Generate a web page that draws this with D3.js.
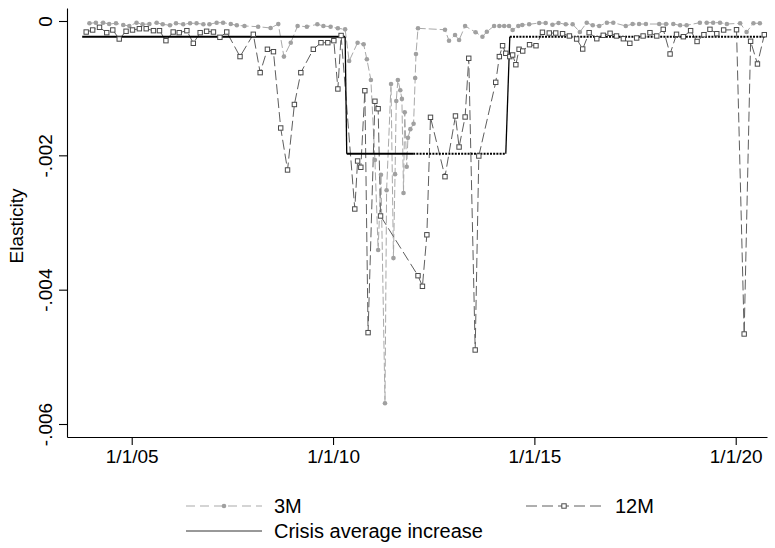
<!DOCTYPE html>
<html>
<head>
<meta charset="utf-8">
<script src="https://cdn.jsdelivr.net/npm/d3@7"></script>
<style>
  body { margin: 0; background: #fff; }
  svg { display: block; font-family: "Liberation Sans", Arial, sans-serif; }
</style>
</head>
<body>
<div id="graph"></div>
<script>
// dates as decimal years, values in units of 1e-3

var years3M = [
  2003.95, 2004.11, 2004.29, 2004.44, 2004.61, 2004.79, 2004.94, 2005.12, 2005.27, 2005.44,
  2005.62, 2005.77, 2005.95, 2006.10, 2006.28, 2006.45, 2006.61, 2006.78, 2006.93, 2007.11,
  2007.27, 2007.46, 2007.61, 2007.80, 2008.14, 2008.45, 2008.64, 2008.78, 2008.95, 2009.12,
  2009.35, 2009.61, 2009.76, 2009.94, 2010.12, 2010.30, 2010.40, 2010.61, 2010.76, 2010.84,
  2010.94, 2011.04, 2011.12, 2011.19, 2011.29, 2011.33, 2011.44, 2011.50, 2011.54, 2011.57,
  2011.61, 2011.67, 2011.71, 2011.75, 2011.78, 2011.83, 2011.86, 2011.92, 2012.00, 2012.04,
  2012.06, 2012.11, 2012.78, 2012.88, 2013.03, 2013.13, 2013.28, 2013.54, 2013.71, 2013.82,
  2014.00, 2014.13, 2014.25, 2014.37, 2014.46, 2014.60, 2014.70, 2014.87, 2015.12, 2015.28,
  2015.45, 2015.60, 2015.78, 2015.95, 2016.13, 2016.30, 2016.45, 2016.61, 2016.80, 2016.96,
  2017.27, 2017.44, 2017.60, 2017.77, 2018.10, 2018.27, 2018.45, 2018.62, 2018.78, 2019.11,
  2019.28, 2019.44, 2019.61, 2019.78, 2020.11, 2020.27, 2020.44, 2020.60
]
var vals3M = [
  -0.034, -0.025, -0.025, -0.045, -0.034, -0.060, -0.074, -0.025, -0.049, -0.045,
  -0.025, -0.049, -0.064, -0.034, -0.049, -0.034, -0.034, -0.049, -0.049, -0.025,
  -0.025, -0.045, -0.064, -0.074, -0.085, -0.104, -0.045, -0.530, -0.323, -0.074,
  -0.085, -0.049, -0.074, -0.085, -0.109, -0.124, -0.596, -0.323, -0.347, -0.570,
  -0.878, -2.07, -3.41, -2.29, -5.69, -2.52, -0.938, -3.53, -2.28, -1.19,
  -0.878, -1.03, -1.16, -2.56, -1.36, -2.17, -1.74, -1.61, -1.53, -0.849,
  -0.491, -0.109, -0.130, -0.293, -0.208, -0.283, -0.074, -0.168, -0.234, -0.159,
  -0.074, -0.074, -0.074, -0.074, -0.134, -0.074, -0.060, -0.049, -0.030, -0.030,
  -0.055, -0.030, -0.049, -0.049, -0.164, -0.025, -0.064, -0.074, -0.025, -0.025,
  -0.074, -0.045, -0.045, -0.045, -0.045, -0.045, -0.045, -0.064, -0.064, -0.025,
  -0.025, -0.025, -0.025, -0.045, -0.034, -0.164, -0.034, -0.034
]

var years12M = [
  2003.87, 2004.03, 2004.20, 2004.38, 2004.53, 2004.69, 2004.86, 2005.02, 2005.19, 2005.36,
  2005.54, 2005.69, 2005.85, 2006.03, 2006.18, 2006.37, 2006.53, 2006.70, 2006.86, 2007.03,
  2007.19, 2007.36, 2007.69, 2008.02, 2008.19, 2008.37, 2008.52, 2008.70, 2008.87, 2009.04,
  2009.20, 2009.51, 2009.70, 2009.87, 2010.02, 2010.12, 2010.20, 2010.54, 2010.61, 2010.69,
  2010.79, 2010.87, 2011.04, 2011.12, 2011.18, 2012.11, 2012.22, 2012.33, 2012.42, 2012.78,
  2013.04, 2013.13, 2013.28, 2013.37, 2013.53, 2013.62, 2014.04, 2014.13, 2014.21, 2014.29,
  2014.39, 2014.46, 2014.54, 2014.62, 2014.71, 2014.88, 2015.04, 2015.20, 2015.37, 2015.53,
  2015.70, 2015.87, 2016.05, 2016.20, 2016.36, 2016.55, 2016.71, 2016.88, 2017.04, 2017.21,
  2017.37, 2017.54, 2017.70, 2017.87, 2018.04, 2018.20, 2018.37, 2018.53, 2018.70, 2018.88,
  2019.04, 2019.21, 2019.36, 2019.53, 2019.70, 2020.02, 2020.21, 2020.37, 2020.54, 2020.71
]
var vals12M = [
  -0.164, -0.134, -0.094, -0.174, -0.134, -0.268, -0.153, -0.134, -0.115, -0.115,
  -0.144, -0.144, -0.293, -0.164, -0.174, -0.144, -0.332, -0.174, -0.153, -0.164,
  -0.243, -0.164, -0.530, -0.198, -0.769, -0.421, -0.457, -1.593, -2.218, -1.243,
  -0.769, -0.421, -0.323, -0.323, -0.293, -1.012, -0.216, -2.799, -2.084, -2.178,
  -1.038, -4.640, -1.195, -1.306, -2.903, -3.792, -3.950, -3.183, -1.434, -2.318,
  -1.414, -1.876, -1.429, -0.555, -4.898, -2.010, -0.913, -0.530, -0.368, -0.481,
  -0.530, -0.506, -0.651, -0.421, -0.447, -0.353, -0.368, -0.168, -0.179, -0.179,
  -0.189, -0.223, -0.268, -0.417, -0.174, -0.264, -0.213, -0.183, -0.223, -0.264,
  -0.332, -0.253, -0.223, -0.174, -0.223, -0.124, -0.491, -0.198, -0.234, -0.144,
  -0.305, -0.204, -0.124, -0.189, -0.134, -0.130, -4.660, -0.302, -0.640, -0.204
]

// crisis average step
var yearsCrisis = [2003.77, 2010.30, 2010.34, 2014.29, 2014.39, 2020.75]
var valsCrisis = [-0.234, -0.234, -1.976, -1.976, -0.234, -0.234]
// from this date on the horizontal runs are drawn dotted
var dottedFrom = 2011.99

var yTicks = [0, -0.002, -0.004, -0.006]
var xTicks = [2005, 2010, 2015, 2020]
var xTickLabels = ['1/1/05', '1/1/10', '1/1/15', '1/1/20']

var legendItems = ['3M', '12M', 'Crisis average increase']

var toRows = (ys, vs) => ys.map((t, i) => ({t, v: vs[i] / 1000}))
var s3 = toRows(years3M, vals3M)
var s12 = toRows(years12M, vals12M)
var crisis = toRows(yearsCrisis, valsCrisis)

var width = 775, height = 548
var svg = d3.select('#graph').append('svg')
  .attr('width', width).attr('height', height)

svg.append('rect').attr('width', width).attr('height', height).attr('fill', '#fff')

var x = d3.scaleLinear().domain([2003.393, 2020.777]).range([67, 767])
var y = d3.scaleLinear().domain([0.0001935, -0.0061935]).range([8, 437])

var fs = 19, legFs = 20

// axes
var yAxis = d3.axisLeft(y)
  .tickValues(yTicks)
  .tickSize(8).tickSizeOuter(0)
  .tickFormat(d => d === 0 ? '0' : '-' + d3.format('.3f')(-d).slice(1))
var yG = svg.append('g').attr('transform', 'translate(67,0)').call(yAxis)
yG.selectAll('text')
  .attr('x', 0).attr('y', -15).attr('dy', null)
  .attr('transform', 'rotate(-90)')
  .attr('text-anchor', 'middle')

var xAxis = d3.axisBottom(x)
  .tickValues(xTicks)
  .tickSize(8).tickSizeOuter(0)
  .tickFormat((d, i) => xTickLabels[i])
var xG = svg.append('g').attr('transform', 'translate(0,437)').call(xAxis)
xG.selectAll('text').attr('y', 26).attr('dy', null)

svg.selectAll('.tick text').attr('font-size', fs).attr('fill', '#000')
  .attr('font-family', '"Liberation Sans", Arial, sans-serif')
svg.selectAll('.domain, .tick line').attr('stroke', '#000').attr('stroke-width', 1.1)

svg.append('text')
  .attr('transform', 'translate(23,226) rotate(-90)')
  .attr('text-anchor', 'middle')
  .attr('font-size', fs)
  .text('Elasticity')

var line = d3.line().x(d => x(d.t)).y(d => y(d.v))

var c3 = '#a9a9a9', c3m = '#a0a0a0', c12 = '#5e5e5e', c12m = '#4a4a4a'

// 3M line
svg.append('path')
  .attr('d', line(s3))
  .attr('fill', 'none').attr('stroke', c3).attr('stroke-width', 1)
  .attr('stroke-dasharray', '8,3')

// 12M line
svg.append('path')
  .attr('d', line(s12))
  .attr('fill', 'none').attr('stroke', c12).attr('stroke-width', 1)
  .attr('stroke-dasharray', '10,4')

// crisis average: each segment solid, except flat runs after dottedFrom
var cSegs = d3.pairs(crisis)
cSegs.forEach(([a, b]) => {
  var flat = a.v === b.v
  if (flat && b.t > dottedFrom && a.t < dottedFrom){
    drawSeg([a, {t: dottedFrom, v: a.v}], false)
    drawSeg([{t: dottedFrom, v: a.v}, b], true)
  } else {
    drawSeg([a, b], flat && a.t >= dottedFrom)
  }
})
function drawSeg(pts, dotted){
  svg.append('path')
    .attr('d', line(pts))
    .attr('fill', 'none').attr('stroke', '#000')
    .attr('stroke-width', pts[0].v === pts[1].v ? 2 : 1.3)
    .attr('stroke-dasharray', dotted ? '2,1.2' : null)
}

// markers
svg.append('g').selectAll('circle').data(s3).join('circle')
  .attr('cx', d => x(d.t)).attr('cy', d => y(d.v))
  .attr('r', 2.3).attr('fill', c3m)

var sq = 4.4
svg.append('g').selectAll('rect').data(s12).join('rect')
  .attr('x', d => x(d.t) - sq / 2).attr('y', d => y(d.v) - sq / 2)
  .attr('width', sq).attr('height', sq)
  .attr('fill', '#fff').attr('stroke', c12m).attr('stroke-width', 1)

// legend
var leg = svg.append('g')
function legLine(x0, yy, stroke, dash){
  leg.append('line')
    .attr('x1', x0).attr('x2', x0 + 76).attr('y1', yy).attr('y2', yy)
    .attr('stroke', stroke).attr('stroke-width', 1)
    .attr('stroke-dasharray', dash)
}
legLine(186, 506, c3, '9,5')
leg.append('circle').attr('cx', 224).attr('cy', 506).attr('r', 2.3).attr('fill', c3m)
legLine(526, 506, c12, '11,5')
leg.append('rect').attr('x', 564 - sq / 2).attr('y', 506 - sq / 2)
  .attr('width', sq).attr('height', sq)
  .attr('fill', '#fff').attr('stroke', c12m)
legLine(186, 531, '#333', null)

leg.append('text').attr('x', 274).attr('y', 513).attr('font-size', legFs).text(legendItems[0])
leg.append('text').attr('x', 615).attr('y', 513).attr('font-size', legFs).text(legendItems[1])
leg.append('text').attr('x', 274).attr('y', 538).attr('font-size', legFs).text(legendItems[2])
</script>
</body>
</html>
